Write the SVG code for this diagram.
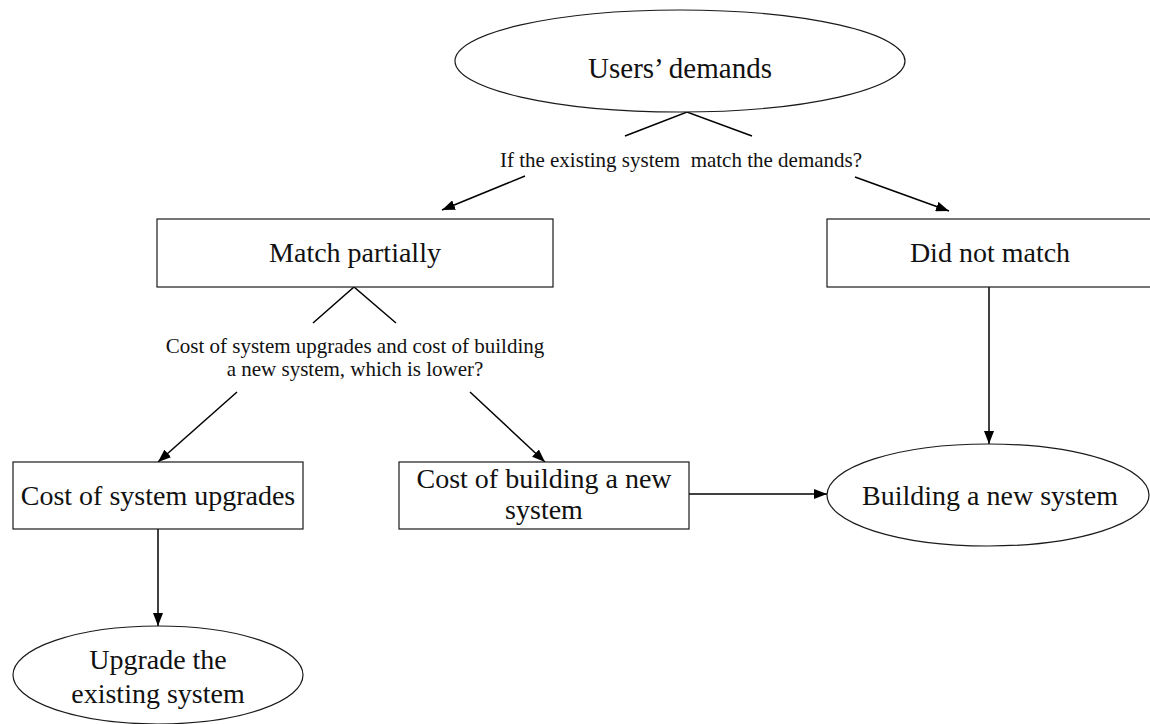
<svg xmlns="http://www.w3.org/2000/svg" width="1150" height="724" viewBox="0 0 1150 724">
  <style>
    .shape { fill: #ffffff; stroke: #1a1a1a; stroke-width: 1.2; }
    .lbl { font-family: "Liberation Serif", "Times New Roman", serif; font-size: 28px; fill: #111111; text-anchor: middle; }
    .q { font-family: "Liberation Serif", "Times New Roman", serif; font-size: 21px; fill: #111111; text-anchor: middle; white-space: pre; }
    .link { fill: none; stroke: #000000; stroke-width: 1.5; }
    .arrow { fill: none; stroke: #000000; stroke-width: 1.5; marker-end: url(#head); }
  </style>
  <defs>
    <marker id="head" markerUnits="userSpaceOnUse" markerWidth="14" markerHeight="10" refX="13" refY="5" orient="auto">
      <path d="M0,0 L13,5 L0,10 z" fill="#000000"/>
    </marker>
  </defs>
  <rect width="1150" height="724" fill="#ffffff"/>

  <g id="connectors">
    <path class="link" d="M625,136 L687,112 L752,136"/>
    <text class="q" x="681" y="167" xml:space="preserve">If the existing system  match the demands?</text>
    <line class="arrow" x1="525" y1="176" x2="442" y2="210"/>
    <line class="arrow" x1="855" y1="177" x2="949" y2="211"/>
    <path class="link" d="M313,323 L354,287 L396,323"/>
    <text class="q" x="355" y="353">Cost of system upgrades and cost of building</text>
    <text class="q" x="355" y="376">a new system, which is lower?</text>
    <line class="arrow" x1="237" y1="392" x2="158" y2="462"/>
    <line class="arrow" x1="470" y1="392" x2="545" y2="462"/>
    <line class="arrow" x1="158" y1="529" x2="158" y2="626"/>
    <line class="arrow" x1="689" y1="494" x2="827" y2="494"/>
    <line class="arrow" x1="989" y1="287" x2="989" y2="444"/>
  </g>

  <g id="users-demands">
    <ellipse class="shape" cx="680" cy="61" rx="225" ry="51"/>
    <text class="lbl" x="680" y="78" style="font-size:29px">Users’ demands</text>
  </g>

  <g id="match-partially">
    <rect class="shape" x="157" y="219" width="396" height="68"/>
    <text class="lbl" x="355" y="262">Match partially</text>
  </g>

  <g id="did-not-match">
    <rect class="shape" x="827" y="219" width="330" height="68"/>
    <text class="lbl" x="990" y="262">Did not match</text>
  </g>

  <g id="cost-upgrades">
    <rect class="shape" x="13" y="462" width="290" height="67"/>
    <text class="lbl" x="158" y="505">Cost of system upgrades</text>
  </g>

  <g id="cost-new-system">
    <rect class="shape" x="399" y="462" width="290" height="67"/>
    <text class="lbl" x="544" y="488">Cost of building a new</text>
    <text class="lbl" x="544" y="519">system</text>
  </g>

  <g id="build-new-system">
    <ellipse class="shape" cx="988" cy="495" rx="161" ry="51"/>
    <text class="lbl" x="990" y="505">Building a new system</text>
  </g>

  <g id="upgrade-existing">
    <ellipse class="shape" cx="158" cy="675" rx="145" ry="49"/>
    <text class="lbl" x="158" y="669">Upgrade the</text>
    <text class="lbl" x="158" y="703">existing system</text>
  </g>
</svg>
